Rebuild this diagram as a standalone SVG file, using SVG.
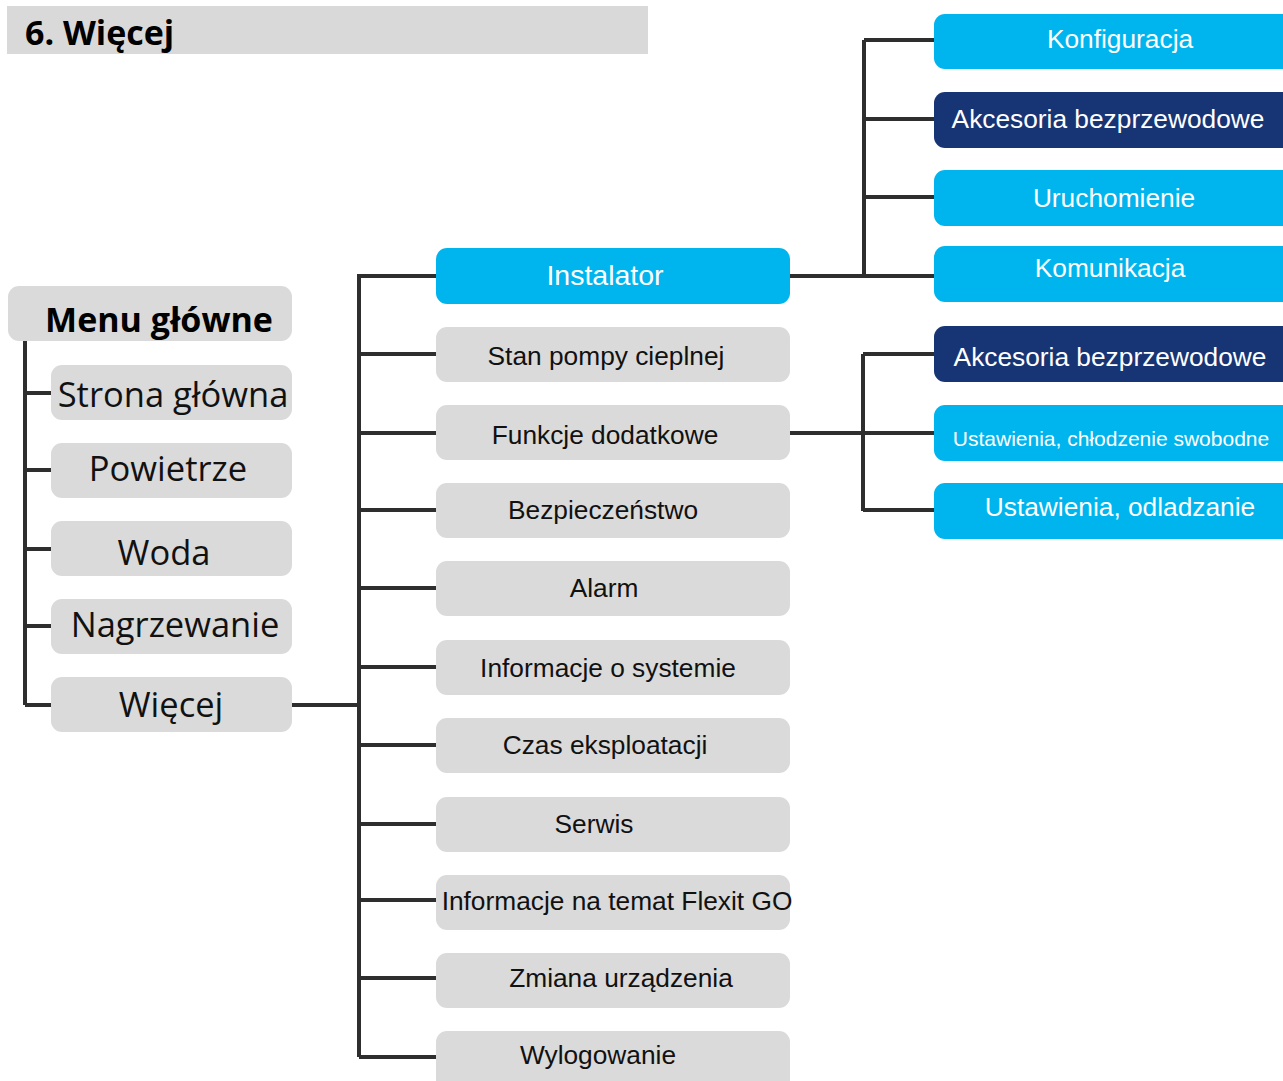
<svg xmlns="http://www.w3.org/2000/svg" width="1283" height="1081" viewBox="0 0 1283 1081">
<style>
.g{fill:#dadada}
.b{fill:#00b5ee}
.n{fill:#173474}
.ln{stroke:#2e2e2e;stroke-width:4;fill:none;stroke-linecap:butt}
.lt{font-family:"Open Sans","DejaVu Sans",sans-serif;font-size:34.5px;fill:#111;text-anchor:middle}
.mt{font-family:"Liberation Sans",Arial,sans-serif;font-size:26.3px;fill:#111;text-anchor:middle}
.wt{font-family:"Liberation Sans",Arial,sans-serif;font-size:26.3px;fill:#fff;text-anchor:middle}
</style>
<rect width="1283" height="1081" fill="#fff"/>
<g id="title">
<rect x="7" y="6" width="641" height="48" fill="#d9d9d9"/>
<text x="25" y="45" style="font-family:'Open Sans','DejaVu Sans',sans-serif;font-weight:bold;font-size:34px" fill="#000">6. Więcej</text>
</g>
<g id="connectors">
<path class="ln" d="M25 341V705M25 393H51M25 470H51M25 549H51M25 626H51M25 705H51"/>
<path class="ln" d="M292 705H359M359 274V1057M359 276H436M359 354H436M359 433H436M359 510H436M359 588H436M359 667H436M359 745H436M359 824H436M359 900H436M359 978H436M359 1057H436"/>
<path class="ln" d="M790 276H934M864 40V276M864 40H934M864 119H934M864 197H934"/>
<path class="ln" d="M790 433H934M863 354V511M863 354H934M863 510H934"/>
</g>
<g id="menu-glowne"><rect class="g" x="8" y="286" width="284" height="55" rx="11"/><text x="159" y="332" style="font-family:'Open Sans','DejaVu Sans',sans-serif;font-weight:bold;font-size:34px" fill="#000" text-anchor="middle">Menu główne</text></g>
<g id="strona-glowna"><rect class="g" x="51" y="365" width="241" height="55" rx="11"/><text class="lt" x="173" y="407">Strona główna</text></g>
<g id="powietrze"><rect class="g" x="51" y="443" width="241" height="55" rx="11"/><text class="lt" x="168" y="481">Powietrze</text></g>
<g id="woda"><rect class="g" x="51" y="521" width="241" height="55" rx="11"/><text class="lt" x="164" y="565">Woda</text></g>
<g id="nagrzewanie"><rect class="g" x="51" y="599" width="241" height="55" rx="11"/><text class="lt" x="175" y="637">Nagrzewanie</text></g>
<g id="wiecej"><rect class="g" x="51" y="677" width="241" height="55" rx="11"/><text class="lt" x="171" y="717">Więcej</text></g>
<g id="instalator"><rect class="b" x="436" y="248" width="354" height="56" rx="11"/><text class="wt" x="605" y="285" style="font-size:28.5px">Instalator</text></g>
<g id="stan-pompy"><rect class="g" x="436" y="327" width="354" height="55" rx="11"/><text class="mt" x="606" y="365">Stan pompy cieplnej</text></g>
<g id="funkcje"><rect class="g" x="436" y="405" width="354" height="55" rx="11"/><text class="mt" x="605" y="444">Funkcje dodatkowe</text></g>
<g id="bezpieczenstwo"><rect class="g" x="436" y="483" width="354" height="55" rx="11"/><text class="mt" x="603" y="519">Bezpieczeństwo</text></g>
<g id="alarm"><rect class="g" x="436" y="561" width="354" height="55" rx="11"/><text class="mt" x="604" y="597">Alarm</text></g>
<g id="info-systemie"><rect class="g" x="436" y="640" width="354" height="55" rx="11"/><text class="mt" x="608" y="677">Informacje o systemie</text></g>
<g id="czas"><rect class="g" x="436" y="718" width="354" height="55" rx="11"/><text class="mt" x="605" y="754">Czas eksploatacji</text></g>
<g id="serwis"><rect class="g" x="436" y="797" width="354" height="55" rx="11"/><text class="mt" x="594" y="833">Serwis</text></g>
<g id="flexit-go"><rect class="g" x="436" y="875" width="354" height="55" rx="11"/><text class="mt" x="617" y="910">Informacje na temat Flexit GO</text></g>
<g id="zmiana"><rect class="g" x="436" y="953" width="354" height="55" rx="11"/><text class="mt" x="621" y="987">Zmiana urządzenia</text></g>
<g id="wylogowanie"><rect class="g" x="436" y="1031" width="354" height="60" rx="11"/><text class="mt" x="598" y="1064">Wylogowanie</text></g>
<g id="konfiguracja"><rect class="b" x="934" y="14" width="360" height="55" rx="11"/><text class="wt" x="1120" y="48">Konfiguracja</text></g>
<g id="akcesoria-1"><rect class="n" x="934" y="92" width="360" height="56" rx="11"/><text class="wt" x="1108" y="128">Akcesoria bezprzewodowe</text></g>
<g id="uruchomienie"><rect class="b" x="934" y="170" width="360" height="56" rx="11"/><text class="wt" x="1114" y="207">Uruchomienie</text></g>
<g id="komunikacja"><rect class="b" x="934" y="246" width="360" height="56" rx="11"/><text class="wt" x="1110" y="277">Komunikacja</text></g>
<g id="akcesoria-2"><rect class="n" x="934" y="326" width="360" height="56" rx="11"/><text class="wt" x="1110" y="366">Akcesoria bezprzewodowe</text></g>
<g id="chlodzenie"><rect class="b" x="934" y="405" width="360" height="56" rx="11"/><text class="wt" x="1111" y="446" style="font-size:21px">Ustawienia, chłodzenie swobodne</text></g>
<g id="odladzanie"><rect class="b" x="934" y="483" width="360" height="56" rx="11"/><text class="wt" x="1120" y="516">Ustawienia, odladzanie</text></g>
</svg>
